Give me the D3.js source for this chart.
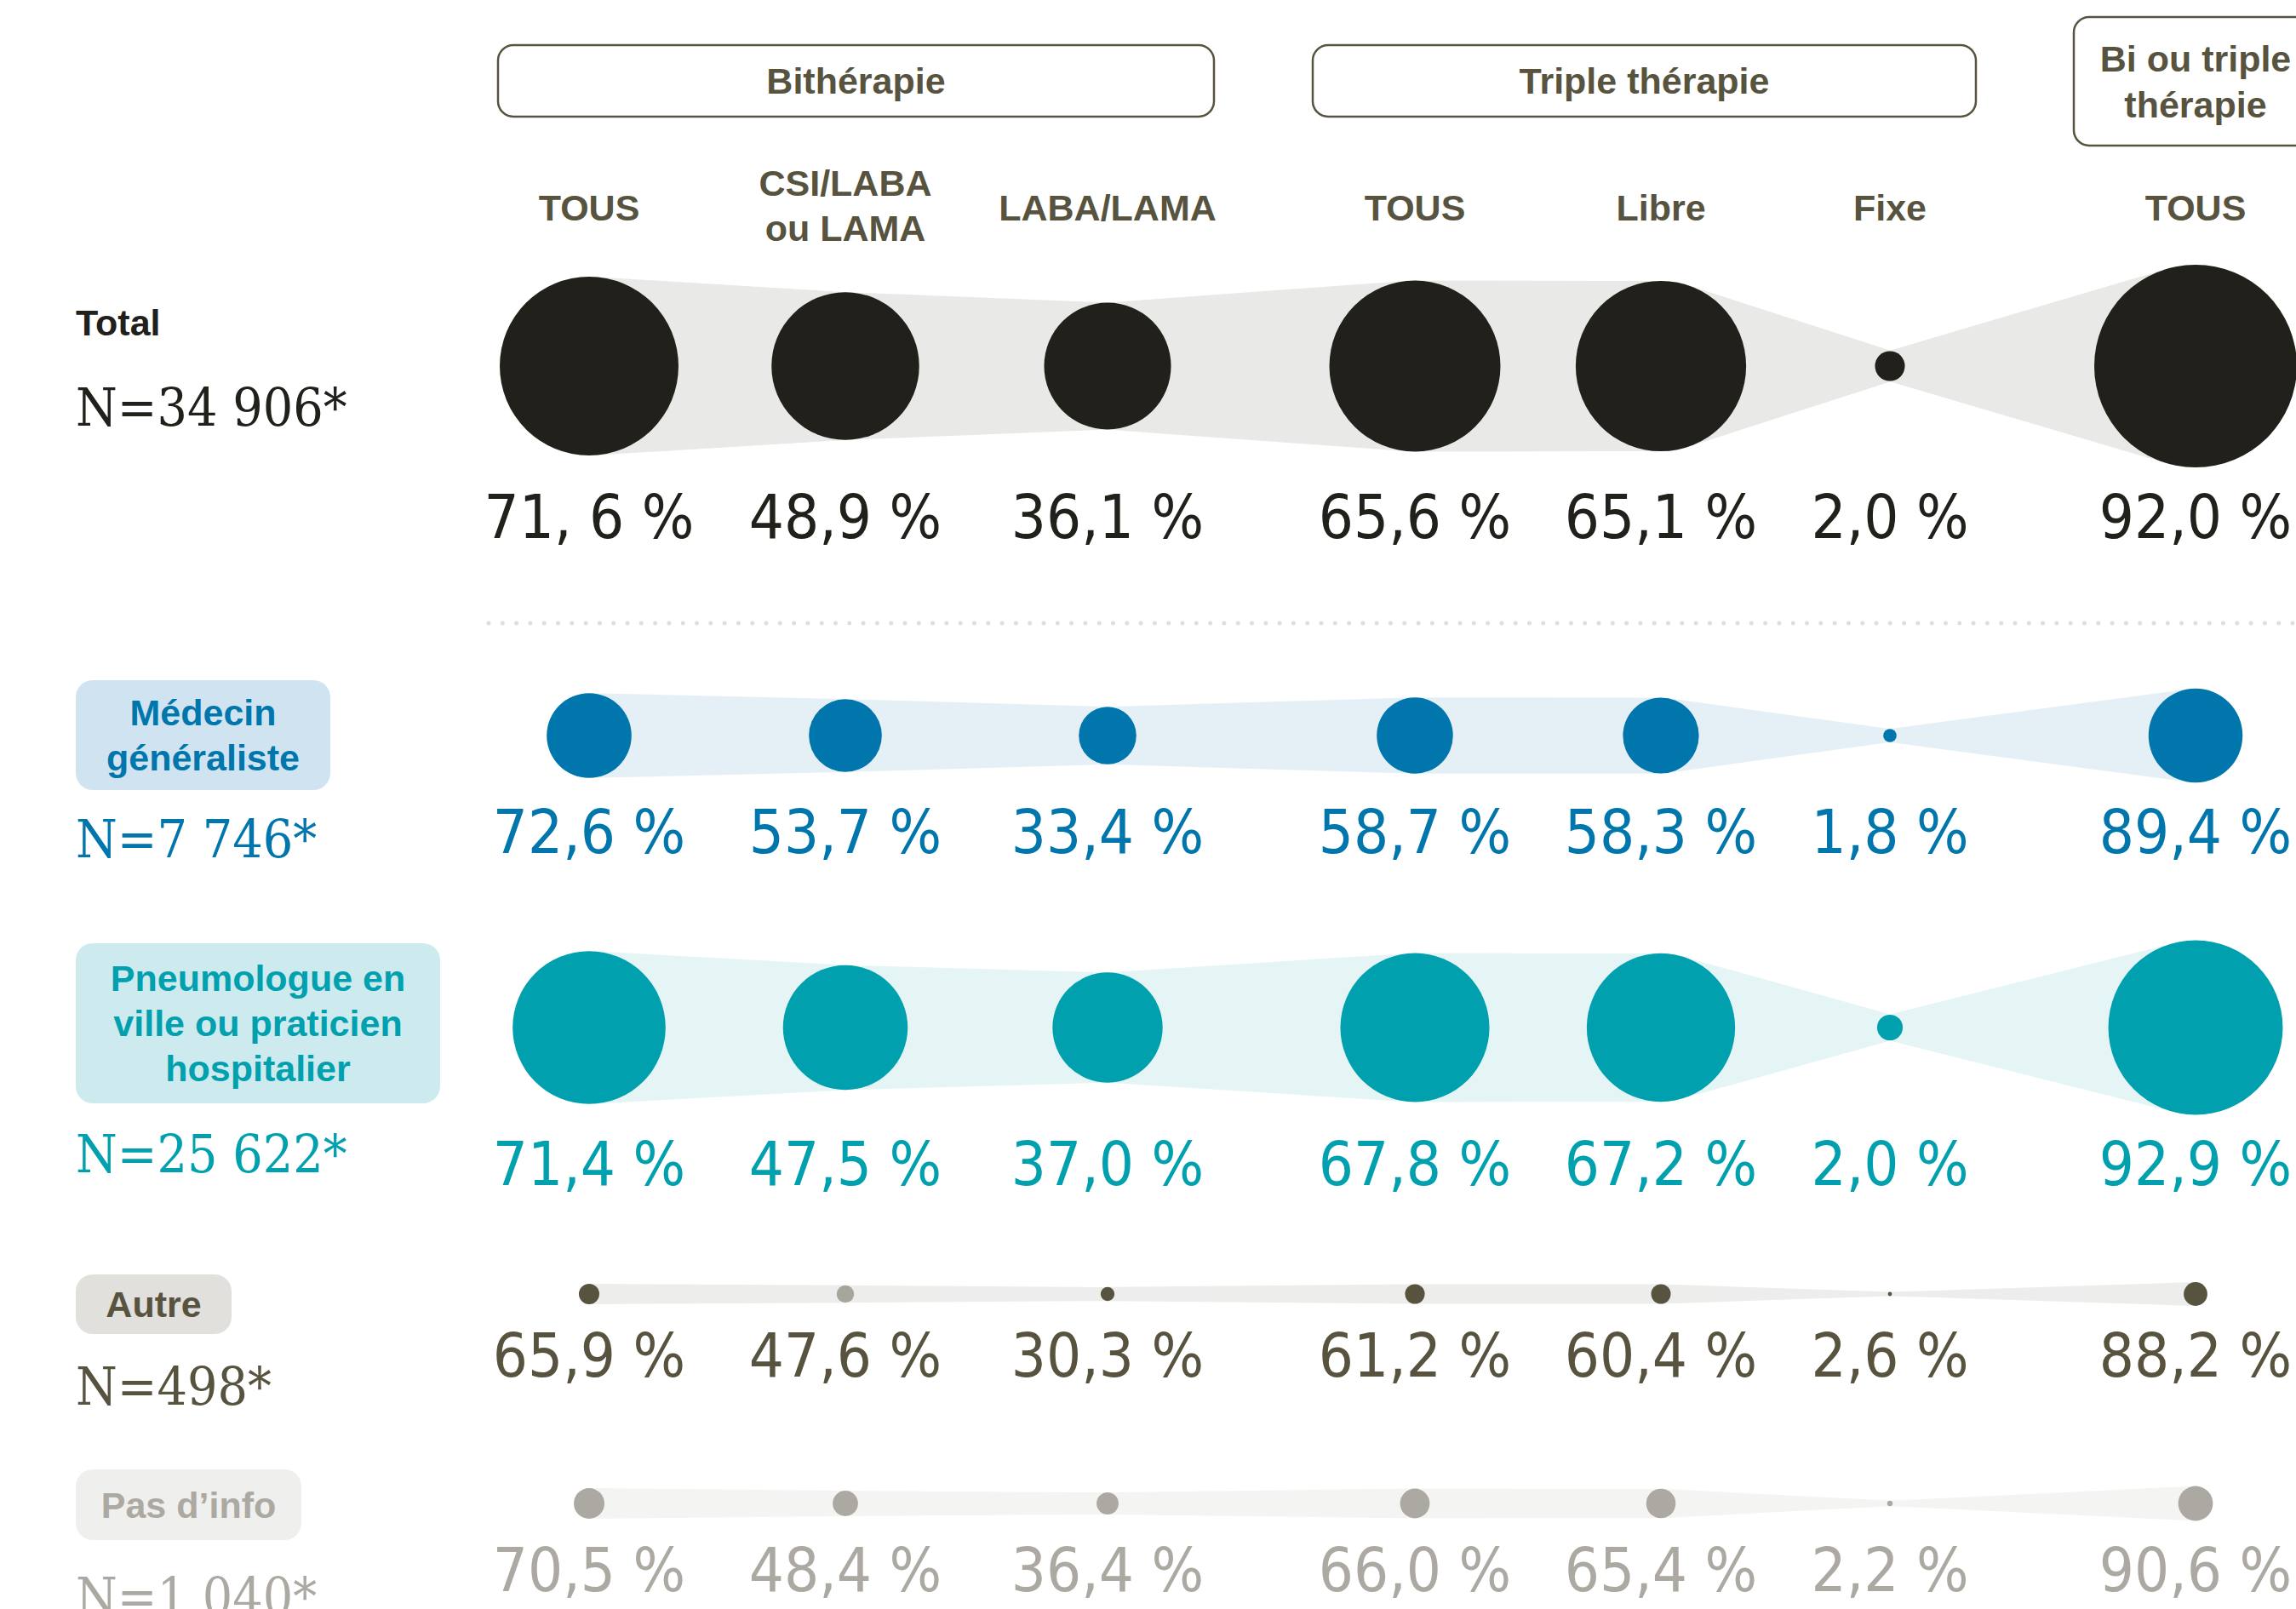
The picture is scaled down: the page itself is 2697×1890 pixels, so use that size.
<!DOCTYPE html>
<html>
<head>
  <meta charset="utf-8">
<style>
  body { margin: 0; background: #fff; }
  .head { font-family: "Liberation Sans", Arial, sans-serif; font-weight: bold; font-size: 43px; fill: #57533f; }
  .pct { font-family: "DejaVu Sans Condensed", "DejaVu Sans", sans-serif; font-stretch: condensed; font-size: 72px; }
  .nlab { font-family: "DejaVu Serif Condensed", "DejaVu Serif", serif; font-stretch: condensed; font-size: 62px; }
  .rlab { font-family: "Liberation Sans", Arial, sans-serif; font-weight: bold; font-size: 43px; }
</style>
<script src="https://d3js.org/d3.v7.min.js"></script>
<script>

  // columns
  var colKeys = ["bi_tous", "bi_csi", "bi_laba", "tri_tous", "tri_libre", "tri_fixe", "all_tous"];
  var colLabels = [["TOUS"], ["CSI/LABA", "ou LAMA"], ["LABA/LAMA"], ["TOUS"], ["Libre"], ["Fixe"], ["TOUS"]];
  var groupLabels = [["Bithérapie"], ["Triple thérapie"], ["Bi ou triple", "thérapie"]];

  // rows
  var rowLabels = [["Total"], ["Médecin", "généraliste"], ["Pneumologue en", "ville ou praticien", "hospitalier"], ["Autre"], ["Pas d’info"]];
  var rowN = [34906, 7746, 25622, 498, 1040];

  // % of patients per column
  var totalPct  = [71.6, 48.9, 36.1, 65.6, 65.1, 2.0, 92.0];
  var mgPct     = [72.6, 53.7, 33.4, 58.7, 58.3, 1.8, 89.4];
  var pneumoPct = [71.4, 47.5, 37.0, 67.8, 67.2, 2.0, 92.9];
  var autrePct  = [65.9, 47.6, 30.3, 61.2, 60.4, 2.6, 88.2];
  var infoPct   = [70.5, 48.4, 36.4, 66.0, 65.4, 2.2, 90.6];

  function draw() {
    var svg = d3.select("svg");
    var rows = [totalPct, mgPct, pneumoPct, autrePct, infoPct];

    var fr = d3.formatLocale({decimal: ",", thousands: " ", grouping: [3], currency: ["", " €"]});
    var fmtN = fr.format(",d"), fmtP = fr.format(".1f");
    var labelFix = {"0-0": "71, 6 %"};

    var styles = [
      {dot: "#22201b", band: "#e9e9e7", text: "#22201b", box: null},
      {dot: "#0076ad", band: "#e5f0f6", text: "#0076ad", box: "#cfe4f0"},
      {dot: "#00a0ae", band: "#e5f5f6", text: "#00a0ae", box: "#cdebee"},
      {dot: "#57533f", band: "#ededeb", text: "#57533f", box: "#e1e0dd"},
      {dot: "#aba9a1", band: "#f4f4f3", text: "#aba9a1", box: "#efefee"}
    ];
    var oddDot = {"3-1": "#a8a69c"};

    // layout
    var rowY = [430, 864, 1207, 1520, 1766];
    var nY = [500, 1007, 1377, 1650, 1897];
    var boxes = [null, [89, 799, 299, 129], [89, 1108, 428, 188], [89, 1497, 183, 70], [89, 1726, 265, 83]];
    var groupBoxes = [[585, 53, 841, 84], [1542, 53, 779, 84], [2436, 20, 290, 151]];

    var x = d3.scaleOrdinal().domain(colKeys).range([692, 993, 1301, 1662, 1951, 2220, 2579]);
    var r = d3.scaleSqrt().domain([0, rowN[0] * d3.max(totalPct)]).range([0, 119]);

    // group boxes
    var gb = svg.append("g");
    groupBoxes.forEach(function(b, i) {
      gb.append("rect")
        .attr("x", b[0]).attr("y", b[1]).attr("width", b[2]).attr("height", b[3])
        .attr("rx", 18)
        .attr("fill", "none").attr("stroke", "#57533f").attr("stroke-width", 2.5);
      var lines = groupLabels[i];
      var cx = b[0] + b[2] / 2;
      if (i == 2) cx = x("all_tous");
      var y0 = b[1] + b[3] / 2 + 15 - (lines.length - 1) * 27;
      lines.forEach(function(t, j) {
        gb.append("text").attr("class", "head")
          .attr("x", cx).attr("y", y0 + j * 54)
          .attr("text-anchor", "middle").text(t);
      });
    });

    // column headers
    var ch = svg.append("g");
    colKeys.forEach(function(k, i) {
      var lines = colLabels[i];
      var y0 = 259 - (lines.length - 1) * 29;
      lines.forEach(function(t, j) {
        ch.append("text").attr("class", "head")
          .attr("x", x(k)).attr("y", y0 + j * 53)
          .attr("text-anchor", "middle").text(t);
      });
    });

    // separator
    svg.append("line")
      .attr("x1", 574).attr("x2", 2697).attr("y1", 732).attr("y2", 732)
      .attr("stroke", "#dedede").attr("stroke-width", 5)
      .attr("stroke-linecap", "round").attr("stroke-dasharray", "0 16.3");

    var line = d3.line();

    rows.forEach(function(vals, ri) {
      var st = styles[ri];
      var g = svg.append("g");
      var circ = vals.map(function(v, ci) {
        return {x: x(colKeys[ci]), y: rowY[ri], r: r(rowN[ri] * v), v: v, ci: ci};
      });

      // bands between consecutive circles (outer tangents)
      d3.pairs(circ).forEach(function(p) {
        var a = p[0], b = p[1];
        var k = (a.r - b.r) / (b.x - a.x), s = Math.sqrt(1 - k * k);
        g.append("path")
          .attr("d", line([
            [a.x + a.r * k, a.y - a.r * s], [b.x + b.r * k, b.y - b.r * s],
            [b.x + b.r * k, b.y + b.r * s], [a.x + a.r * k, a.y + a.r * s]
          ]) + "Z")
          .attr("fill", st.band);
      });

      g.selectAll("circle").data(circ).enter().append("circle")
        .attr("cx", function(d) { return d.x; })
        .attr("cy", function(d) { return d.y; })
        .attr("r", function(d) { return d.r; })
        .attr("fill", function(d) { return oddDot[ri + "-" + d.ci] || st.dot; });

      var maxR = d3.max(circ, function(d) { return d.r; });
      g.selectAll("text.pct").data(circ).enter().append("text")
        .attr("class", "pct")
        .attr("x", function(d) { return d.x; })
        .attr("y", rowY[ri] + maxR + 83)
        .attr("text-anchor", "middle")
        .attr("fill", st.text)
        .text(function(d) { return labelFix[ri + "-" + d.ci] || (fmtP(d.v) + " %"); });

      // row label
      var lines = rowLabels[ri];
      if (boxes[ri]) {
        var b = boxes[ri];
        g.append("rect")
          .attr("x", b[0]).attr("y", b[1]).attr("width", b[2]).attr("height", b[3])
          .attr("rx", 20).attr("fill", st.box);
        var y0 = b[1] + b[3] / 2 + 15 - (lines.length - 1) * 26.5;
        lines.forEach(function(t, j) {
          g.append("text").attr("class", "rlab")
            .attr("x", b[0] + b[2] / 2).attr("y", y0 + j * 53)
            .attr("text-anchor", "middle").attr("fill", st.text).text(t);
        });
      } else {
        g.append("text").attr("class", "rlab")
          .attr("x", 89).attr("y", 394).attr("fill", st.text).text(lines[0]);
      }

      g.append("text").attr("class", "nlab")
        .attr("x", 89).attr("y", nY[ri])
        .attr("fill", st.text)
        .text("N=" + fmtN(rowN[ri]) + "*");
    });
  }

  window.onload = draw;

</script>
</head>
<body>
  <svg width="2697" height="1890"></svg>
</body>
</html>
